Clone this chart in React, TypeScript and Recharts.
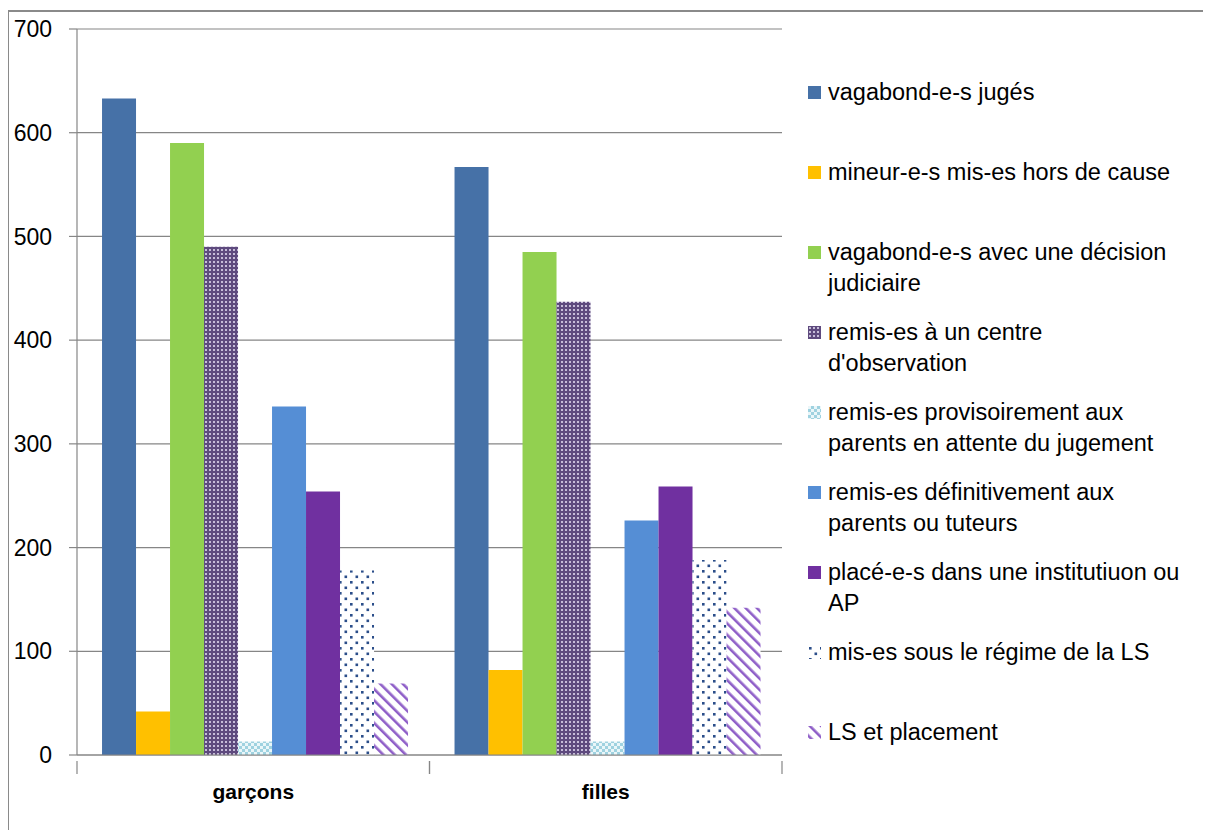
import React from 'react';
import { BarChart, Bar, XAxis, YAxis, CartesianGrid } from 'recharts';

const categories = ['garçons', 'filles'];

const seriesNames = [
  'vagabond-e-s jugés',
  'mineur-e-s mis-es hors de cause',
  'vagabond-e-s avec une décision judiciaire',
  "remis-es à un centre d'observation",
  'remis-es provisoirement aux parents en attente du jugement',
  'remis-es définitivement aux parents ou tuteurs',
  'placé-e-s dans une institutiuon ou AP',
  'mis-es sous le régime de la LS',
  'LS et placement',
];

// legend lines as displayed (wrapped)
const legendLines = [
  ['vagabond-e-s jugés'],
  ['mineur-e-s mis-es hors de cause'],
  ['vagabond-e-s avec une décision', 'judiciaire'],
  ['remis-es à un centre', "d'observation"],
  ['remis-es provisoirement aux', 'parents en attente du jugement'],
  ['remis-es définitivement aux', 'parents ou tuteurs'],
  ['placé-e-s dans une institutiuon ou', 'AP'],
  ['mis-es sous le régime de la LS'],
  ['LS et placement'],
];

const garconsValues = [633, 42, 590, 490, 13, 336, 254, 178, 69];
const fillesValues = [567, 82, 485, 437, 13, 226, 259, 188, 142];

const yTicks = [0, 100, 200, 300, 400, 500, 600, 700];

const seriesFills = [
  '#4671A7',
  '#FFC000',
  '#92D050',
  'url(#patCentre)',
  'url(#patProv)',
  '#558ED5',
  '#7030A0',
  'url(#patLS)',
  'url(#patLSP)',
];

const data = categories.map((c, ci) => {
  const row: any = { cat: c };
  const vals = ci === 0 ? garconsValues : fillesValues;
  seriesNames.forEach((n, i) => {
    row['s' + i] = vals[i];
  });
  return row;
});

const W = 1203;
const H = 822;
const MARGIN = { top: 21, right: 429, bottom: 25, left: 0 };
const YW = 69;
const PLOT_W = W - MARGIN.left - MARGIN.right - YW;
const BAND = PLOT_W / categories.length;
const FONT = '"Liberation Sans", Arial, sans-serif';
const AXIS = '#868686';

// legend layout
const LEG_LEFT = 800;
const LEG_FIRST = 84;
const LEG_STEP = 80;

const XTick = (props: any) => {
  const { x, y, payload } = props;
  return (
    <g>
      <line x1={x - BAND / 2} y1={y - 2} x2={x - BAND / 2} y2={y + 11} stroke={AXIS} strokeWidth={1.2} />
      <line x1={x + BAND / 2} y1={y - 2} x2={x + BAND / 2} y2={y + 11} stroke={AXIS} strokeWidth={1.2} />
      <text x={x} y={y + 36} textAnchor="middle" fontFamily={FONT} fontWeight="bold" fontSize={21} fill="#000">
        {payload.value}
      </text>
    </g>
  );
};

const ChartLegend = () => (
  <div style={{ position: 'absolute', left: LEG_LEFT, top: 0, width: 400, height: H }}>
    {legendLines.map((lines, i) => (
      <div
        key={i}
        style={{
          position: 'absolute',
          left: 0,
          top: LEG_FIRST + LEG_STEP * i - 15.5,
          display: 'flex',
          alignItems: 'flex-start',
          fontFamily: FONT,
          fontSize: 23.5,
          lineHeight: '31px',
          color: '#000',
        }}
      >
        <svg width={13} height={13} style={{ marginTop: 9, marginRight: 7, flex: 'none' }}>
          <rect x={0} y={0} width={13} height={13} fill={seriesFills[i]} />
        </svg>
        <div>
          {lines.map((l, j) => (
            <div key={j} style={{ whiteSpace: 'nowrap' }}>{l}</div>
          ))}
        </div>
      </div>
    ))}
  </div>
);

export default function App() {
  return (
    <div style={{ position: 'relative', width: W, height: H, overflow: 'hidden', background: '#fff' }}>
      <div
        style={{
          position: 'absolute',
          left: -1,
          top: 2,
          width: 1300,
          height: 1000,
          border: '2px solid #8a8a8a',
          boxSizing: 'border-box',
        }}
      />
      <div style={{ position: 'absolute', left: 0, top: 0 }}>
        <BarChart
          width={W}
          height={H}
          data={data}
          margin={MARGIN}
          barCategoryGap="7.1%"
          barGap={0}
        >
          <defs>
            <pattern id="patCentre" patternUnits="userSpaceOnUse" width={4} height={4}>
              <rect width={4} height={4} fill="#5E4A7E" />
              <rect x={1} y={1} width={2} height={2} fill="#C6BCD8" />
            </pattern>
            <pattern id="patProv" patternUnits="userSpaceOnUse" width={6} height={6}>
              <rect width={6} height={6} fill="#9FD2E0" />
              <rect x={0} y={0} width={3} height={3} fill="#EAF6F9" />
              <rect x={3} y={3} width={3} height={3} fill="#EAF6F9" />
            </pattern>
            <pattern id="patLS" patternUnits="userSpaceOnUse" width={11} height={11}>
              <rect width={11} height={11} fill="#fff" />
              <rect x={1} y={1} width={2.6} height={2.6} fill="#2B4E8A" />
              <rect x={6.5} y={6.5} width={2.6} height={2.6} fill="#2B4E8A" />
            </pattern>
            <pattern id="patLSP" patternUnits="userSpaceOnUse" width={8} height={8} patternTransform="rotate(-45)">
              <rect width={8} height={8} fill="#fff" />
              <rect x={0} y={0} width={2.6} height={8} fill="#8F5FC8" />
            </pattern>
          </defs>
          <CartesianGrid vertical={false} stroke={AXIS} strokeWidth={1.2} />
          <XAxis
            dataKey="cat"
            axisLine={{ stroke: AXIS, strokeWidth: 1.2 }}
            tickLine={false}
            tick={<XTick />}
            height={50}
            interval={0}
          />
          <YAxis
            width={YW}
            domain={[0, 700]}
            ticks={yTicks}
            interval={0}
            axisLine={{ stroke: AXIS, strokeWidth: 1.2 }}
            tickLine={{ stroke: AXIS, strokeWidth: 1.2 }}
            tickSize={8}
            tickMargin={17}
            tick={{ fontFamily: FONT, fontSize: 23, fill: '#000' }}
          />
          {seriesNames.map((n, i) => (
            <Bar key={n} dataKey={'s' + i} name={n} fill={seriesFills[i]} isAnimationActive={false} />
          ))}
        </BarChart>
      </div>
      <ChartLegend />
    </div>
  );
}
